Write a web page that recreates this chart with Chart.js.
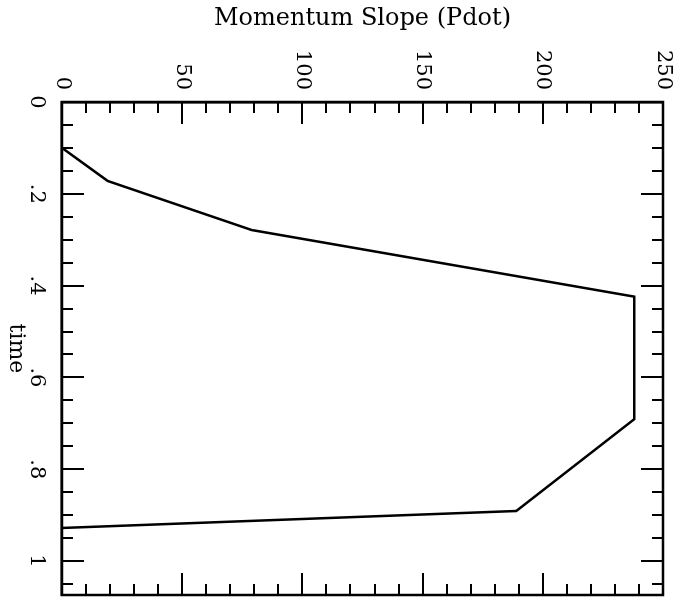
<!DOCTYPE html>
<html>
<head>
<meta charset="utf-8">
<title>Momentum Slope (Pdot)</title>
<script src="https://cdn.jsdelivr.net/npm/chart.js@4.4.0/dist/chart.umd.min.js"></script>
<style>
  html, body { margin: 0; padding: 0; background: #fff; overflow: hidden; }
  /* the plot is laid out landscape and turned a quarter clockwise onto the page */
  #page {
    position: absolute;
    left: 0;
    top: 0;
    width: 604px;
    height: 678px;
    transform-origin: 0 0;
    transform: translate(678px, 0) rotate(90deg);
  }
</style>
</head>
<body>
<div id="page"><canvas id="pdotChart" width="604" height="678"></canvas></div>
<script>
// =================== data =======================
const timeValues = [0.100, 0.172, 0.279, 0.424, 0.691, 0.891, 0.928];
const pdotValues = [0, 19, 79, 238, 238, 189, 0];

const timeTicks = [0, 0.2, 0.4, 0.6, 0.8, 1];
const timeTickLabels = ['0', '.2', '.4', '.6', '.8', '1'];
const pdotTicks = [0, 50, 100, 150, 200, 250];
const pdotTickLabels = ['0', '50', '100', '150', '200', '250'];

const timeMax = 1.074;
const pdotMax = 250;
const timeMinorStep = 0.05;   // 4 minor per major
const pdotMinorStep = 10;     // 5 minor per major
// =================== END DATA ===================

Chart.defaults.font.family = "'DejaVu Serif', serif";
Chart.defaults.color = '#000';

// helper: turn a fixed list into scale ticks
function fixedTicks(values) {
    return function(scale) {
        scale.ticks = values.map(v => ({ value: v }));
    };
}

// box round the plot plus inward tick marks on all four sides
const frameTicks = {
    id: 'frameTicks',
    afterDraw(chart) {
        const { ctx, chartArea: a, scales: { x, y } } = chart;
        ctx.save();
        ctx.strokeStyle = '#000';
        ctx.lineWidth = 2.5;
        ctx.strokeRect(a.left, a.top, a.right - a.left, a.bottom - a.top);

        ctx.lineWidth = 2;
        ctx.beginPath();
        for (let i = 0; i * timeMinorStep <= timeMax + 1e-9; i++) {
            const px = Math.round(x.getPixelForValue(i * timeMinorStep));
            const len = i % 4 === 0 ? 22 : 11;
            ctx.moveTo(px, a.bottom);
            ctx.lineTo(px, a.bottom - len);
            ctx.moveTo(px, a.top);
            ctx.lineTo(px, a.top + len);
        }
        for (let i = 0; i * pdotMinorStep <= pdotMax + 1e-9; i++) {
            const py = Math.round(y.getPixelForValue(i * pdotMinorStep));
            const len = i % 5 === 0 ? 22 : 11;
            ctx.moveTo(a.left, py);
            ctx.lineTo(a.left + len, py);
            ctx.moveTo(a.right, py);
            ctx.lineTo(a.right - len, py);
        }
        ctx.stroke();
        ctx.restore();
    }
};

function momentumSlope() {
    const ctx = document.getElementById('pdotChart');
    const points = timeValues.map((t, i) => ({ x: t, y: pdotValues[i] }));

    const myChart = new Chart(ctx, {
        type: 'scatter',
        data: {
            datasets: [{
                label: 'Pdot',
                data: points,
                showLine: true,
                borderColor: '#000',
                borderWidth: 2.5,
                pointRadius: 0,
                tension: 0
            }]
        },
        options: {
            responsive: false,
            animation: false,
            layout: {
                padding: { top: 15, right: 9, bottom: 0, left: 0 }
            },
            plugins: {
                legend: { display: false },
                tooltip: { enabled: false }
            },
            scales: {
                x: {
                    type: 'linear',
                    position: 'bottom',
                    min: 0,
                    max: timeMax,
                    afterBuildTicks: fixedTicks(timeTicks),
                    afterFit: function(scale) {
                        scale.height = 62;
                        scale.paddingLeft = 0;
                        scale.paddingRight = 0;
                    },
                    grid: { display: false, drawTicks: false },
                    border: { display: true, color: '#000', width: 2.5 },
                    ticks: {
                        autoSkip: false,
                        maxRotation: 0,
                        padding: 13,
                        font: { size: 21 },
                        callback: function(value) {
                            const i = timeTicks.findIndex(v => Math.abs(v - value) < 1e-6);
                            return i >= 0 ? timeTickLabels[i] : '';
                        }
                    },
                    title: {
                        display: true,
                        text: 'time',
                        font: { size: 22 },
                        padding: { top: 0, bottom: 3 }
                    }
                },
                y: {
                    type: 'linear',
                    position: 'left',
                    min: 0,
                    max: pdotMax,
                    afterBuildTicks: fixedTicks(pdotTicks),
                    afterFit: function(scale) {
                        scale.width = 102;
                        scale.paddingTop = 0;
                        scale.paddingBottom = 0;
                    },
                    grid: { display: false, drawTicks: false },
                    border: { display: true, color: '#000', width: 2.5 },
                    ticks: {
                        autoSkip: false,
                        padding: 12,
                        font: { size: 21 },
                        callback: function(value) {
                            const i = pdotTicks.indexOf(value);
                            return i >= 0 ? pdotTickLabels[i] : '';
                        }
                    },
                    title: {
                        display: true,
                        text: 'Momentum Slope (Pdot)',
                        font: { size: 24 },
                        padding: { top: 4, bottom: 4 }
                    }
                }
            }
        },
        plugins: [frameTicks]
    });
    return myChart;
}

momentumSlope();
</script>
</body>
</html>
